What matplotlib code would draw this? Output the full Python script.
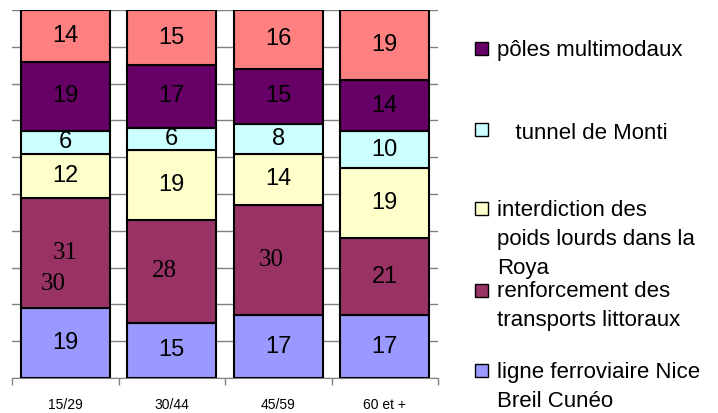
import matplotlib
matplotlib.use("Agg")
import matplotlib.pyplot as plt
from matplotlib.patches import Rectangle
import numpy as np

categories = ["15/29", "30/44", "45/59", "60 et +"]

# stacked from bottom to top
ligne = [19, 15, 17, 17]
renforcement = [30, 28, 30, 21]
interdiction = [12, 19, 14, 19]
tunnel = [6, 6, 8, 10]
poles = [19, 17, 15, 14]
autre = [14, 15, 16, 19]

series = [ligne, renforcement, interdiction, tunnel, poles, autre]
colors = ["#9999FF", "#993366", "#FFFFCC", "#CCFFFF", "#660066", "#FF8080"]

legend_labels = ["pôles multimodaux", "   tunnel de Monti",
                 "interdiction des\npoids lourds dans la\nRoya",
                 "renforcement des\ntransports littoraux",
                 "ligne ferroviaire Nice\nBreil Cunéo"]
legend_colors = ["#660066", "#CCFFFF", "#FFFFCC", "#993366", "#9999FF"]

W, H = 718, 413
fig = plt.figure(figsize=(W / 100, H / 100), dpi=100)
fig.patch.set_facecolor("white")
ax = fig.add_axes([12 / W, 35 / H, 426 / W, 368 / H])

SANS = "Liberation Sans"
SERIF = "Liberation Serif"

x = np.arange(len(categories))
bottom = np.zeros(len(categories))
for vals, c in zip(series, colors):
    ax.bar(x, vals, bottom=bottom, width=0.84, color=c, edgecolor="black",
           linewidth=1.5, zorder=3)
    for i, v in enumerate(vals):
        if c == "#993366":
            continue
        ax.text(x[i], bottom[i] + v / 2, str(v), ha="center", va="center",
                fontsize=17, family=SANS, zorder=4)
    bottom += np.array(vals)

# labels of the "renforcement" segment, as in the source image
mid = np.array(ligne) + np.array(renforcement) / 2
ax.text(x[0], mid[0], "31", ha="center", va="center", fontsize=18,
        family=SERIF, zorder=4)
ax.text(x[0] - 0.11, mid[0] - 8.5, str(renforcement[0]), ha="center", va="center",
        fontsize=18, family=SERIF, zorder=4)
ax.text(x[1] - 0.07, mid[1], str(renforcement[1]), ha="center", va="center",
        fontsize=18, family=SERIF, zorder=4)
ax.text(x[2] - 0.07, mid[2], str(renforcement[2]), ha="center", va="center",
        fontsize=18, family=SERIF, zorder=4)
ax.text(x[3], mid[3], str(renforcement[3]), ha="center", va="center",
        fontsize=17, family=SANS, zorder=4)

ax.set_xlim(-0.5, len(categories) - 0.5)
ax.set_ylim(0, 100)
ax.set_yticks(range(0, 101, 10))
ax.yaxis.grid(True, color="#808080", linewidth=1.0, zorder=0)
ax.tick_params(axis="y", length=0, labelleft=False)

ax.set_xticks(x)
ax.set_xticklabels(categories, fontsize=10, family=SANS)
ax.set_xticks(np.arange(-0.5, len(categories)), minor=True)
ax.tick_params(axis="x", which="major", length=0, pad=14.5)
ax.tick_params(axis="x", which="minor", length=5, color="#808080", width=1)

for side in ["top", "right", "left"]:
    ax.spines[side].set_visible(False)
ax.spines["bottom"].set_color("#808080")

# legend drawn by hand to keep its uneven spacing (pixel rows)
legend_text_top = [40, 123, 200, 281, 362]
legend_box_top = [42, 123, 202, 284, 364]
for lab, c, ty, by in zip(legend_labels, legend_colors, legend_text_top, legend_box_top):
    fig.patches.append(Rectangle((475 / W, 1 - (by + 13) / H), 13 / W, 13 / H,
                                 transform=fig.transFigure, facecolor=c,
                                 edgecolor="black", linewidth=1))
    fig.text(497 / W, 1 - ty / H, lab, ha="left", va="top",
             fontsize=16, family=SANS, linespacing=1.5)

fig.savefig("out.png", dpi=100, facecolor=fig.get_facecolor())
